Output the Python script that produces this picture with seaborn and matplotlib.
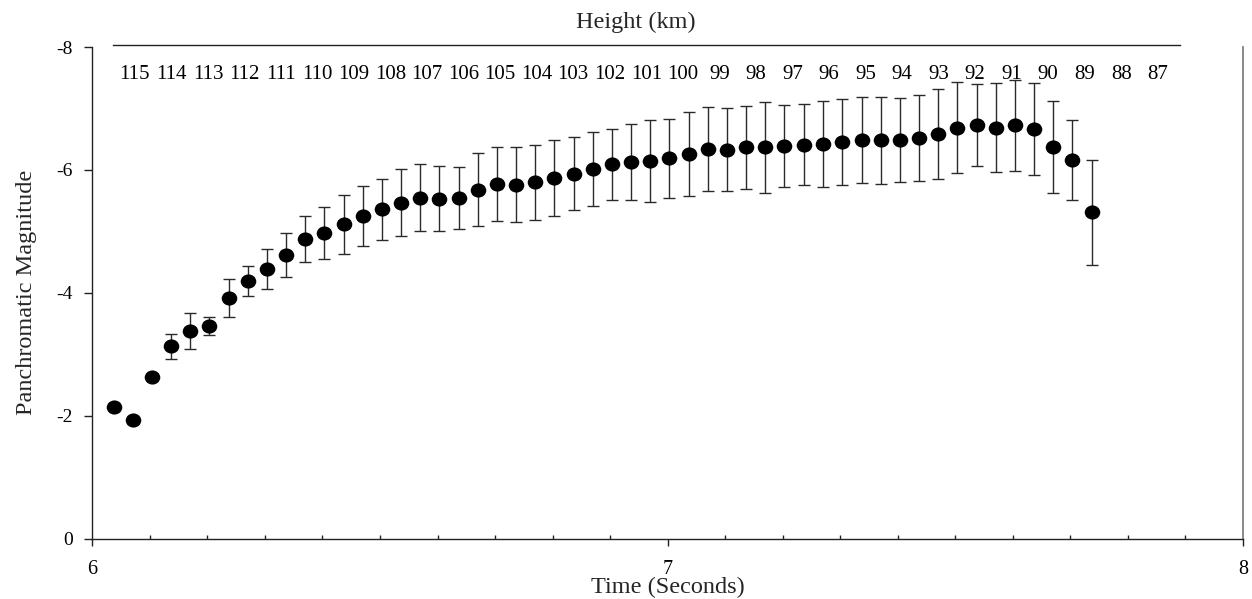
import matplotlib
matplotlib.use("Agg")
import matplotlib.pyplot as plt
from matplotlib.markers import MarkerStyle
from matplotlib.transforms import Affine2D
from matplotlib.ticker import MultipleLocator, FixedLocator
import seaborn as sns
import pandas as pd

# Video frames sampled at 30 frames per second
time_s = [6.037, 6.070, 6.103, 6.137, 6.170, 6.203, 6.237, 6.270, 6.303, 6.337,
          6.370, 6.403, 6.437, 6.470, 6.503, 6.537, 6.570, 6.603, 6.637, 6.670,
          6.703, 6.737, 6.770, 6.803, 6.837, 6.870, 6.903, 6.937, 6.970, 7.003,
          7.037, 7.070, 7.103, 7.137, 7.170, 7.203, 7.237, 7.270, 7.303, 7.337,
          7.370, 7.403, 7.437, 7.470, 7.503, 7.537, 7.570, 7.603, 7.637, 7.670,
          7.703, 7.737]

magnitude = [-2.15, -1.93, -2.63, -3.13, -3.38, -3.46, -3.91, -4.19, -4.39, -4.62,
             -4.87, -4.97, -5.12, -5.25, -5.36, -5.47, -5.55, -5.53, -5.54, -5.68,
             -5.77, -5.76, -5.80, -5.87, -5.94, -6.02, -6.09, -6.13, -6.15, -6.19,
             -6.26, -6.34, -6.33, -6.37, -6.37, -6.39, -6.41, -6.42, -6.45, -6.48,
             -6.48, -6.49, -6.52, -6.58, -6.69, -6.73, -6.69, -6.73, -6.67, -6.37,
             -6.16, -5.31]

mag_error = [0.0, 0.0, 0.0, 0.20, 0.29, 0.145, 0.31, 0.24, 0.325, 0.36,
             0.375, 0.42, 0.48, 0.49, 0.50, 0.545, 0.55, 0.53, 0.50, 0.60,
             0.60, 0.615, 0.61, 0.625, 0.60, 0.60, 0.58, 0.62, 0.67, 0.64,
             0.68, 0.69, 0.675, 0.675, 0.74, 0.66, 0.66, 0.70, 0.70, 0.70,
             0.705, 0.68, 0.705, 0.735, 0.74, 0.665, 0.72, 0.74, 0.745, 0.745,
             0.655, 0.855]

# Secondary scale: meteor height along the trajectory
height_km = [115, 114, 113, 112, 111, 110, 109, 108, 107, 106, 105, 104, 103, 102,
             101, 100, 99, 98, 97, 96, 95, 94, 93, 92, 91, 90, 89, 88, 87]
height_limits = (115.60, 86.39)

time_ticks = [6, 7, 8]
mag_ticks = [-8, -6, -4, -2, 0]
mag_tick_labels = ["-8", "-6", "-4", "-2", "0"]

df = pd.DataFrame({"time": time_s, "mag": magnitude, "err": mag_error})

sns.set_theme(style="white")
plt.rcParams["font.family"] = ["Liberation Serif", "DejaVu Serif"]
plt.rcParams["axes.unicode_minus"] = False

W, H = 1252, 599
fig = plt.figure(figsize=(W / 100, H / 100), dpi=100)
fig.patch.set_facecolor("white")

# main axes in pixel geometry
left, right, top, bottom = 92.3, 1243.0, 47.0, 538.7
ax = fig.add_axes([left / W, (H - bottom) / H, (right - left) / W, (bottom - top) / H])
ax.set_facecolor("white")

ax.errorbar(df["time"], df["mag"], yerr=df["err"], fmt="none",
            ecolor="#2a2a2a", elinewidth=1.0, capsize=4, capthick=1.0, zorder=2)

dot = MarkerStyle("o", transform=Affine2D().scale(1.1, 1.0))
sns.scatterplot(data=df, x="time", y="mag", ax=ax, marker=dot, s=104,
                color="black", edgecolor="black", linewidth=0, zorder=3, legend=False)

ax.set_xlim(6, 8)
ax.set_ylim(0, -8)
ax.xaxis.set_major_locator(FixedLocator(time_ticks))
ax.set_xticklabels([str(t) for t in time_ticks])
ax.xaxis.set_minor_locator(MultipleLocator(0.1))
ax.set_yticks(mag_ticks)
ax.set_yticklabels(mag_tick_labels)

ax.tick_params(axis="x", which="major", direction="out", length=5, width=1,
               color="#222222", pad=10, labelsize=14.5, labelcolor="black", bottom=True)
ax.tick_params(axis="x", which="minor", direction="in", length=3, width=1,
               color="#222222", bottom=True)
ax.tick_params(axis="y", which="major", direction="out", length=6, width=1,
               color="#222222", pad=8, labelsize=14, labelcolor="black", left=True)

for side in ("left", "bottom"):
    ax.spines[side].set_color("#222222")
    ax.spines[side].set_linewidth(1.0)
ax.spines["top"].set_visible(False)
ax.spines["right"].set_color("#808080")
ax.spines["right"].set_linewidth(1.3)

ax.set_xlabel("Time (Seconds)", fontsize=17.5, labelpad=-1)
ax.set_ylabel("Panchromatic Magnitude", fontsize=17.5, labelpad=14)

# height scale drawn as a thin axes whose bottom spine runs along the top
h_left, h_right, h_y = 113.0, 1180.0, 45.3
ax2 = fig.add_axes([h_left / W, (H - h_y) / H, (h_right - h_left) / W, 0.001])
ax2.patch.set_visible(False)
for side in ("left", "right", "top"):
    ax2.spines[side].set_visible(False)
ax2.spines["bottom"].set_color("#222222")
ax2.spines["bottom"].set_linewidth(1.0)
ax2.set_xlim(*height_limits)
ax2.set_xticks(height_km)
ax2.set_xticklabels([str(h) for h in height_km])
ax2.set_yticks([])
ax2.tick_params(axis="x", direction="out", length=5, width=1, color="#222222",
                pad=9, labelsize=15, labelcolor="black")
fig.text(636 / W, 1 - 22 / H, "Height (km)", ha="center", va="center", fontsize=17.5)

fig.savefig("out.png", dpi=100, facecolor="white")
